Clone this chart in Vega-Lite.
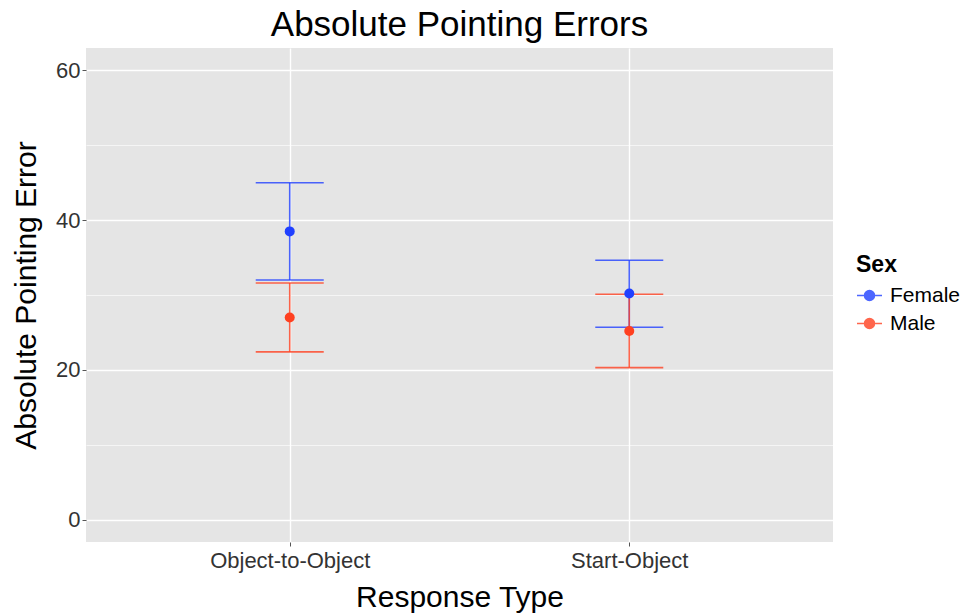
{
  "$schema": "https://vega.github.io/schema/vega-lite/v6.json",
  "autosize": {"type": "none"},
  "padding": {"left": 86, "top": 48, "right": 131, "bottom": 71},
  "width": 747,
  "height": 494,
  "background": "white",
  "title": {
    "text": "Absolute Pointing Errors",
    "font": "Liberation Sans",
    "fontSize": 35,
    "fontWeight": "normal",
    "color": "black",
    "anchor": "middle",
    "baseline": "alphabetic",
    "offset": 10,
    "dy": 33
  },
  "config": {
    "view": {"fill": "#E5E5E5", "stroke": null},
    "font": "Liberation Sans"
  },
  "data": {
    "values": [
      {"type": "Object-to-Object", "sex": "Female", "mean": 38.5, "lower": 32.0, "upper": 45.0},
      {"type": "Object-to-Object", "sex": "Male", "mean": 27.0, "lower": 22.4, "upper": 31.6},
      {"type": "Start-Object", "sex": "Female", "mean": 30.2, "lower": 25.7, "upper": 34.65},
      {"type": "Start-Object", "sex": "Male", "mean": 25.2, "lower": 20.3, "upper": 30.1}
    ]
  },
  "encoding": {
    "x": {
      "field": "type",
      "type": "nominal",
      "title": "Response Type",
      "scale": {"type": "point", "padding": 0.6},
      "axis": {
        "labelAngle": 0,
        "labelFontSize": 22,
        "labelColor": "#333333",
        "labelPadding": 4,
        "tickSize": 4,
        "tickColor": "#555555",
        "tickWidth": 1,
        "domain": false,
        "grid": true,
        "gridColor": "white",
        "gridWidth": 1.4,
        "titleFontSize": 30,
        "titleFontWeight": "normal",
        "titleColor": "black",
        "titlePadding": 11
      }
    },
    "color": {
      "field": "sex",
      "type": "nominal",
      "title": "Sex",
      "scale": {"domain": ["Female", "Male"], "range": ["#2040FF", "#FF4020"]},
      "legend": {
        "orient": "none",
        "legendX": 770,
        "legendY": 206,
        "padding": 0,
        "titleFontSize": 23,
        "titleFontWeight": "bold",
        "titleColor": "black",
        "titlePadding": 5,
        "labelFontSize": 21,
        "labelColor": "black",
        "labelOffset": 7,
        "rowPadding": 4,
        "symbolSize": 625,
        "symbolType": "M-1,0L1,0M-0.4,0A0.4,0.4,0,1,1,0.4,0A0.4,0.4,0,1,1,-0.4,0Z",
        "symbolStrokeWidth": 1.5,
        "encode": {
          "symbols": {
            "update": {
              "fill": {"scale": "color", "field": "value"},
              "stroke": {"scale": "color", "field": "value"},
              "strokeWidth": {"value": 1.5},
              "opacity": {"value": 1}
            }
          }
        }
      }
    }
  },
  "layer": [
    {
      "mark": {"type": "rule", "strokeWidth": 1.6, "opacity": 0.8},
      "encoding": {
        "y": {
          "field": "lower",
          "type": "quantitative",
          "title": "Absolute Pointing Error",
          "scale": {"domain": [-3, 63], "nice": false, "zero": false},
          "axis": {
            "values": [0, 10, 20, 30, 40, 50, 60],
            "labelExpr": "datum.value % 20 === 0 ? datum.label : ''",
            "labelFontSize": 22,
            "labelColor": "#333333",
            "labelPadding": 2,
            "tickSize": 4,
            "tickColor": "#555555",
            "tickOpacity": {"condition": {"test": "datum.value % 20 === 0", "value": 1}, "value": 0},
            "domain": false,
            "grid": true,
            "gridColor": "white",
            "gridWidth": {"condition": {"test": "datum.value % 20 === 0", "value": 1.4}, "value": 0.6},
            "titleFontSize": 30,
            "titleFontWeight": "normal",
            "titleColor": "black",
            "titlePadding": 14
          }
        },
        "y2": {"field": "upper"}
      }
    },
    {
      "mark": {"type": "tick", "size": 68, "thickness": 1.6, "opacity": 0.8},
      "encoding": {"y": {"field": "upper", "type": "quantitative"}}
    },
    {
      "mark": {"type": "tick", "size": 68, "thickness": 1.6, "opacity": 0.8},
      "encoding": {"y": {"field": "lower", "type": "quantitative"}}
    },
    {
      "mark": {"type": "point", "shape": "circle", "filled": true, "size": 100, "opacity": 1},
      "encoding": {"y": {"field": "mean", "type": "quantitative"}}
    }
  ]
}
